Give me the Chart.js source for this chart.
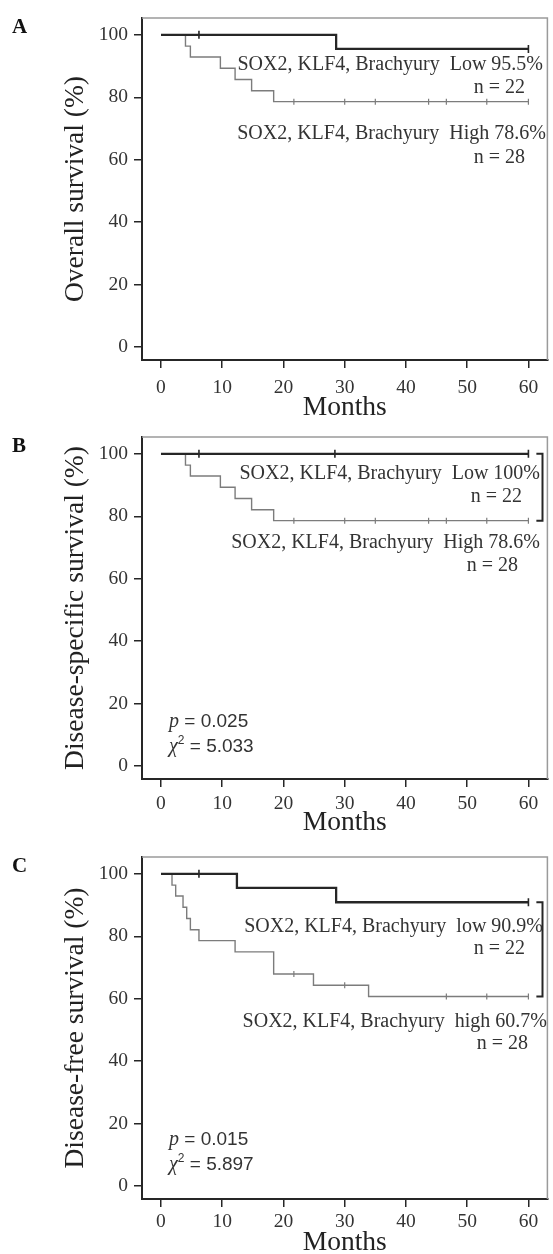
<!DOCTYPE html>
<html>
<head>
<meta charset="utf-8">
<script src="https://cdn.jsdelivr.net/npm/chart.js@4.4.1/dist/chart.umd.min.js"></script>
<style>
  html, body { margin: 0; padding: 0; background: #fff; }
  body { position: relative; width: 553px; height: 1254px; overflow: hidden; }
  canvas { position: absolute; left: 0; display: block; }
</style>
</head>
<body>
<canvas id="osChart" width="553" height="422" style="top:0"></canvas>
<canvas id="dssChart" width="553" height="418" style="top:419px"></canvas>
<canvas id="dfsChart" width="553" height="418" style="top:839px"></canvas>
<script>
const monthTicks = [0, 10, 20, 30, 40, 50, 60]
const survivalTicks = [0, 20, 40, 60, 80, 100]

// A: overall survival
const osLowMonths = [0, 28.6, 60]
const osLowSurvival = [100, 95.5, 95.5]
const osLowCensored = [6.2, 60]
const osHighMonths = [0, 4.0, 4.8, 9.7, 12.1, 14.8, 18.4, 60]
const osHighSurvival = [100, 96.4, 92.9, 89.3, 85.7, 82.1, 78.6, 78.6]
const osHighCensored = [21.7, 30.0, 35.0, 43.7, 46.6, 53.2, 60]

// B: disease-specific survival
const dssLowMonths = [0, 60]
const dssLowSurvival = [100, 100]
const dssLowCensored = [6.2, 28.4, 60]
const dssHighMonths = [0, 4.0, 4.8, 9.7, 12.1, 14.8, 18.4, 60]
const dssHighSurvival = [100, 96.4, 92.9, 89.3, 85.7, 82.1, 78.6, 78.6]
const dssHighCensored = [21.7, 30.0, 35.0, 43.7, 46.6, 53.2, 60]

// C: disease-free survival
const dfsLowMonths = [0, 12.4, 28.6, 60]
const dfsLowSurvival = [100, 95.5, 90.9, 90.9]
const dfsLowCensored = [6.2, 60]
const dfsHighMonths = [0, 1.8, 2.4, 3.6, 4.2, 4.8, 6.2, 12.1, 18.4, 24.9, 33.9, 60]
const dfsHighSurvival = [100, 96.4, 92.9, 89.3, 85.7, 82.1, 78.6, 75.0, 67.9, 64.3, 60.7, 60.7]
const dfsHighCensored = [21.7, 30.0, 46.6, 53.2, 60]

const dark = '#262626'
const gray = '#7c7c7c'
const textColor = '#333'
const serif = "'Liberation Serif', 'Times New Roman', serif"
const sans = "'Liberation Sans', Arial, sans-serif"
const bracketArm = [61.3, 62.3]

function survivalAt(months, survival, t) {
  let s = survival[0]
  for (let i = 0; i < months.length; i++) {
    if (months[i] <= t) s = survival[i]
  }
  return s
}

function curve(months, survival) {
  return months.map((m, i) => ({ x: m, y: survival[i] }))
}

function censorPoints(months, survival, censored) {
  return censored.map(t => ({ x: t, y: survivalAt(months, survival, t) }))
}

function kmDatasets(low, high, bracket) {
  const sets = [
    {
      type: 'line',
      data: curve(low.months, low.survival),
      stepped: 'before',
      borderColor: dark,
      borderWidth: 2.3,
      pointRadius: 0,
      order: 1
    },
    {
      type: 'scatter',
      data: censorPoints(low.months, low.survival, low.censored),
      pointStyle: 'line',
      rotation: 90,
      pointRadius: 4,
      borderColor: dark,
      borderWidth: 1.6,
      order: 0
    },
    {
      type: 'line',
      data: curve(high.months, high.survival),
      stepped: 'before',
      borderColor: gray,
      borderWidth: 1.4,
      pointRadius: 0,
      order: 3
    },
    {
      type: 'scatter',
      data: censorPoints(high.months, high.survival, high.censored),
      pointStyle: 'line',
      rotation: 90,
      pointRadius: 3,
      borderColor: gray,
      borderWidth: 1.2,
      order: 2
    }
  ]
  if (bracket) {
    const top = low.survival[low.survival.length - 1]
    const bottom = high.survival[high.survival.length - 1]
    sets.push({
      type: 'line',
      data: [
        { x: bracketArm[0], y: top },
        { x: bracketArm[1], y: top },
        { x: bracketArm[1], y: bottom },
        { x: bracketArm[0], y: bottom }
      ],
      borderColor: dark,
      borderWidth: 2,
      pointRadius: 0,
      order: 4
    })
  }
  return sets
}

const framePlugin = {
  id: 'frame',
  afterDraw(chart) {
    const { ctx, chartArea: a } = chart
    ctx.save()
    ctx.strokeStyle = '#9a9a9a'
    ctx.lineWidth = 1.5
    ctx.beginPath()
    ctx.moveTo(a.left, a.top)
    ctx.lineTo(a.right, a.top)
    ctx.lineTo(a.right, a.bottom)
    ctx.stroke()
    ctx.restore()
  }
}

const textPlugin = {
  id: 'texts',
  afterDraw(chart, args, opts) {
    const ctx = chart.ctx
    ctx.save()
    ctx.fillStyle = textColor
    ctx.textBaseline = 'alphabetic'
    ;(opts.items || []).forEach(item => {
      const parts = item.parts || [{ text: item.text, font: item.font }]
      let width = 0
      parts.forEach(p => {
        ctx.font = p.font
        width += ctx.measureText(p.text).width
      })
      let x = item.align === 'right' ? item.x - width : item.x
      parts.forEach(p => {
        ctx.font = p.font
        ctx.fillStyle = p.color || item.color || textColor
        ctx.fillText(p.text, x, item.y + (p.dy || 0))
        x += ctx.measureText(p.text).width
      })
    })
    ctx.restore()
  }
}

function statsLines(pValue, chi, y) {
  return [
    {
      x: 169, y: y, align: 'left',
      parts: [
        { text: 'p', font: `italic 20px ${serif}` },
        { text: ' = ' + pValue, font: `19px ${sans}` }
      ]
    },
    {
      x: 169, y: y + 25, align: 'left',
      parts: [
        { text: 'χ', font: `italic 20px ${serif}` },
        { text: '2', font: `12px ${sans}`, dy: -8 },
        { text: ' = ' + chi, font: `19px ${sans}` }
      ]
    }
  ]
}

function setChart(id, { letter, yTitle, datasets, texts, tickPad }) {
  const canvas = document.getElementById(id)
  const c = canvas.getContext('2d')
  const height = canvas.height
  const labelFont = `20px ${serif}`
  const items = [{ text: letter, x: 12, y: 33, font: `bold 21px ${serif}`, color: '#111', align: 'left' }].concat(
    texts.map(t => Object.assign({ font: labelFont, align: 'right' }, t))
  )
  const axisGrid = {
    drawOnChartArea: false,
    drawTicks: true,
    tickLength: 8,
    color: dark,
    lineWidth: 1.5
  }
  const config = {
    type: 'line',
    data: { datasets },
    options: {
      responsive: false,
      animation: false,
      events: [],
      layout: { padding: { top: 18, right: 2, left: 0, bottom: 0 } },
      plugins: {
        legend: { display: false },
        tooltip: { enabled: false },
        texts: { items }
      },
      scales: {
        x: {
          type: 'linear',
          min: -3.1,
          max: 63.1,
          afterBuildTicks: s => { s.ticks = monthTicks.map(v => ({ value: v })) },
          afterFit: s => { s.height = height - 360 },
          border: { color: dark, width: 2 },
          grid: axisGrid,
          ticks: {
            padding: tickPad,
            color: textColor,
            maxRotation: 0,
            font: { family: serif, size: 19.5 }
          },
          title: {
            display: true,
            text: 'Months',
            color: '#222',
            font: { family: serif, size: 27.5, lineHeight: 1 },
            padding: { top: 0, bottom: 0 }
          }
        },
        y: {
          type: 'linear',
          min: -4.2,
          max: 105.4,
          afterBuildTicks: s => { s.ticks = survivalTicks.map(v => ({ value: v })) },
          afterFit: s => { s.width = 142 },
          border: { color: dark, width: 2 },
          grid: axisGrid,
          ticks: {
            padding: 6,
            color: textColor,
            font: { family: serif, size: 19.5 }
          },
          title: {
            display: true,
            text: yTitle,
            color: '#222',
            font: { family: serif, size: 27.5, lineHeight: 1 },
            padding: { top: 62, bottom: 0 }
          }
        }
      }
    },
    plugins: [framePlugin, textPlugin]
  }
  return new Chart(c, config)
}

const osChart = setChart('osChart', {
  letter: 'A',
  yTitle: 'Overall survival (%)',
  tickPad: 8,
  datasets: kmDatasets(
    { months: osLowMonths, survival: osLowSurvival, censored: osLowCensored },
    { months: osHighMonths, survival: osHighSurvival, censored: osHighCensored },
    false
  ),
  texts: [
    { text: 'SOX2, KLF4, Brachyury  Low 95.5%', x: 543, y: 70 },
    { text: 'n = 22', x: 525, y: 93 },
    { text: 'SOX2, KLF4, Brachyury  High 78.6%', x: 546, y: 139 },
    { text: 'n = 28', x: 525, y: 163 }
  ]
})

const dssChart = setChart('dssChart', {
  letter: 'B',
  yTitle: 'Disease-specific survival (%)',
  tickPad: 5,
  datasets: kmDatasets(
    { months: dssLowMonths, survival: dssLowSurvival, censored: dssLowCensored },
    { months: dssHighMonths, survival: dssHighSurvival, censored: dssHighCensored },
    true
  ),
  texts: [
    { text: 'SOX2, KLF4, Brachyury  Low 100%', x: 540, y: 60 },
    { text: 'n = 22', x: 522, y: 83 },
    { text: 'SOX2, KLF4, Brachyury  High 78.6%', x: 540, y: 129 },
    { text: 'n = 28', x: 518, y: 152 }
  ].concat(statsLines('0.025', '5.033', 308))
})

const dfsChart = setChart('dfsChart', {
  letter: 'C',
  yTitle: 'Disease-free survival (%)',
  tickPad: 3,
  datasets: kmDatasets(
    { months: dfsLowMonths, survival: dfsLowSurvival, censored: dfsLowCensored },
    { months: dfsHighMonths, survival: dfsHighSurvival, censored: dfsHighCensored },
    true
  ),
  texts: [
    { text: 'SOX2, KLF4, Brachyury  low 90.9%', x: 543, y: 93 },
    { text: 'n = 22', x: 525, y: 115 },
    { text: 'SOX2, KLF4, Brachyury  high 60.7%', x: 547, y: 188 },
    { text: 'n = 28', x: 528, y: 210 }
  ].concat(statsLines('0.015', '5.897', 306))
})
</script>
</body>
</html>
